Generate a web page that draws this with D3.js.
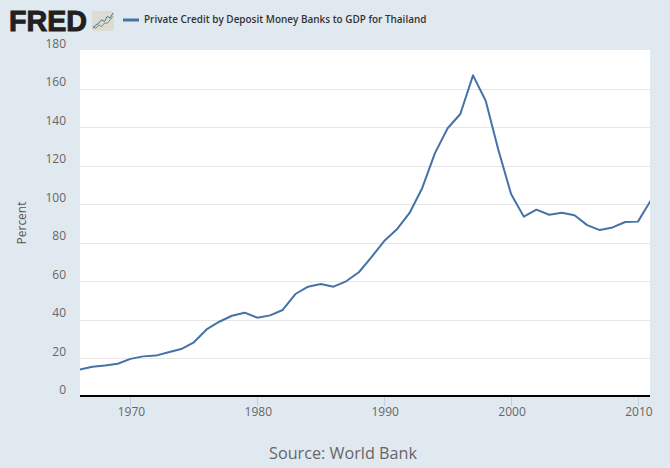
<!DOCTYPE html>
<html><head><meta charset="utf-8">
<script src="https://cdnjs.cloudflare.com/ajax/libs/d3/7.8.5/d3.min.js"></script>
<style>html,body{margin:0;padding:0;background:#e1e9f0}svg{display:block}text{font-family:"Open Sans",sans-serif}</style>
</head><body><svg id="c" width="670" height="468"></svg>
<script>
const years = d3.range(1966, 2012);
const values = [14.1,15.6,16.3,17.2,19.7,21.0,21.4,23.1,24.8,28.3,35,39,42.1,43.7,41.1,42.3,45.1,53.4,57.2,58.6,57.2,60,64.7,72.6,80.9,87,95.5,108.5,126.6,139.5,146.9,167,153.8,128.2,105.3,93.6,97.2,94.6,95.6,94.3,89.2,86.6,88,90.8,91,101.9];
const yTicks = [0,20,40,60,80,100,120,140,160,180];
const xTicks = [1970,1980,1990,2000,2010];
const seriesName = "Private Credit by Deposit Money Banks to GDP for Thailand";
const yTitle = "Percent";
const source = "Source: World Bank";
const logoWord = "FRED";
const iconA = [9,7,6,4,5,2,3,0], iconB = [2,1,3,2,4,4,6,8];

const svg = d3.select("#c");
const L=80,R=650,T=50;
const x = d3.scaleLinear().domain([1966,2010.95]).range([79.7,650]);
const y = d3.scaleLinear().domain([0,180]).range([396.8,50.3]);
svg.append("rect").attr("x",L).attr("y",T).attr("width",R-L).attr("height",396-T).attr("fill","#fff");
svg.append("defs").append("clipPath").attr("id","p").append("rect").attr("x",L).attr("y",T).attr("width",R-L).attr("height",350);
svg.append("g").selectAll("line").data(yTicks.filter(d=>d>0&&d<180)).join("line")
  .attr("x1",L).attr("x2",R).attr("y1",d=>Math.round(y(d))+.5).attr("y2",d=>Math.round(y(d))+.5)
  .attr("stroke","#e6e6e6");
svg.append("g").selectAll("text").data(yTicks).join("text")
  .attr("x",66).attr("y",d=>y(d)-2.4).attr("text-anchor","end").attr("font-size",12).attr("fill","#666").text(d=>d);
svg.append("g").selectAll("line").data(xTicks).join("line")
  .attr("x1",d=>Math.round(x(d))+.5).attr("x2",d=>Math.round(x(d))+.5).attr("y1",397).attr("y2",406).attr("stroke","#c0d0e0");
svg.append("g").selectAll("text").data(xTicks).join("text")
  .attr("x",d=>x(d)+1).attr("y",416).attr("text-anchor","middle").attr("font-size",12).attr("fill","#666").text(d=>d);
svg.append("path").attr("d",d3.line().x((d,i)=>x(years[i])).y(d=>y(d))(values))
  .attr("fill","none").attr("stroke","#4572a7").attr("stroke-width",2).attr("clip-path","url(#p)").attr("stroke-linejoin","round");
svg.append("line").attr("x1",L).attr("x2",R).attr("y1",396).attr("y2",396).attr("stroke","#000").attr("stroke-width",2);
svg.append("text").attr("transform","translate(26,223) rotate(-90)").attr("text-anchor","middle").attr("font-size",12).attr("fill","#555").text(yTitle);
svg.append("text").attr("x",343).attr("y",459).attr("text-anchor","middle").attr("font-size",16.2).attr("fill","#666").text(source);
// legend
svg.append("line").attr("x1",123).attr("x2",139).attr("y1",20).attr("y2",20).attr("stroke","#4572a7").attr("stroke-width",3);
svg.append("text").attr("x",144).attr("y",23).attr("font-size",9.95).attr("font-weight",600).attr("fill","#333").text(seriesName);
// logo
svg.append("text").attr("x",9).attr("y",31).style("font-family","'Liberation Sans',sans-serif").attr("font-size",29).attr("font-weight",700)
  .attr("fill","#231f20").attr("stroke","#231f20").attr("stroke-width",1).attr("textLength",78).attr("lengthAdjust","spacingAndGlyphs").text(logoWord);
svg.append("rect").attr("x",92).attr("y",11).attr("width",22).attr("height",20).attr("rx",2).attr("fill","#dcdcd4");
const ix=d3.scaleLinear().domain([0,7]).range([93,113]), iy=d3.scaleLinear().domain([0,10]).range([13,30]);
svg.append("path").attr("d",d3.line().x((d,i)=>ix(i)).y(d=>iy(d))(iconA)).attr("fill","none").attr("stroke","#4572a7");
svg.append("path").attr("d",d3.line().x((d,i)=>ix(i)).y(d=>iy(10-d))(iconB)).attr("fill","none").attr("stroke","#7a9a3a");
</script></body></html>
